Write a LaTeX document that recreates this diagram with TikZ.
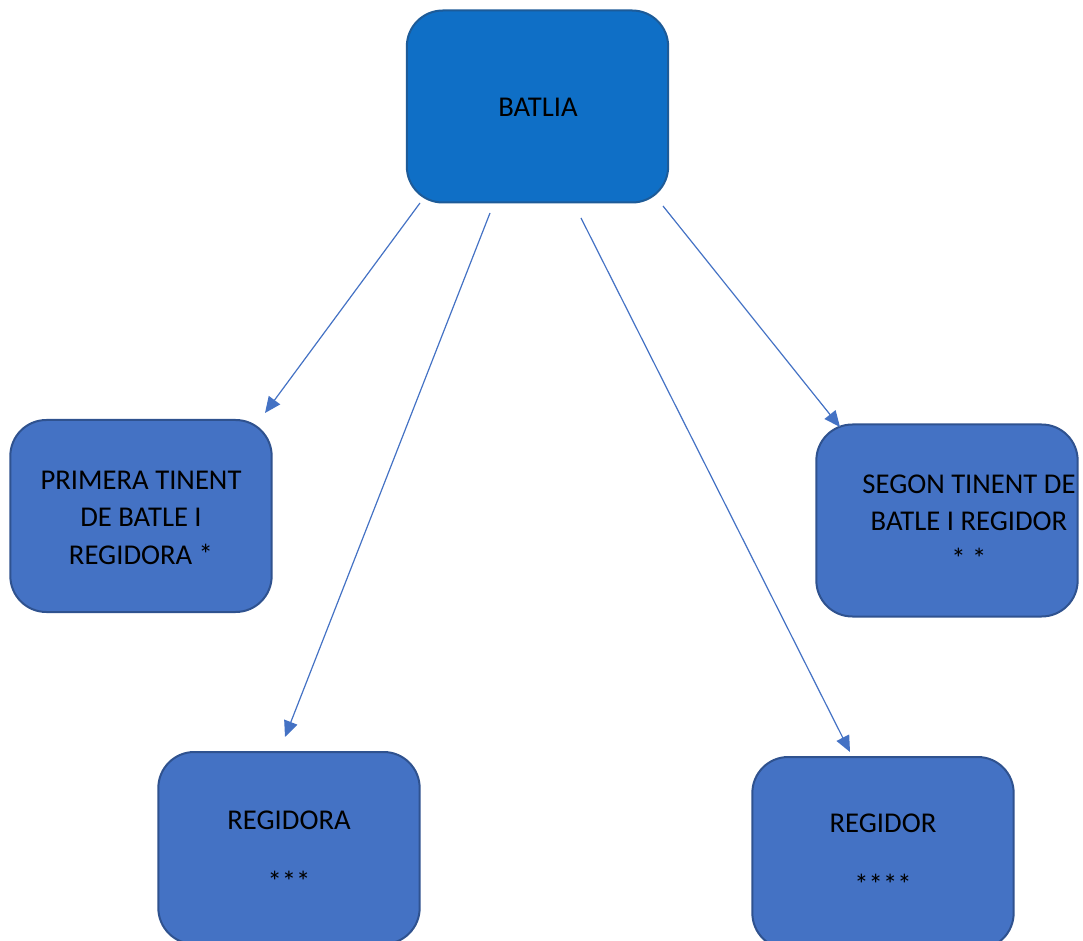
\documentclass[tikz,border=0pt]{standalone}
\usepackage{fontspec}
\setmainfont{Carlito}
\usetikzlibrary{arrows.meta}
\definecolor{topfill}{HTML}{0F6FC6}
\definecolor{topdraw}{HTML}{1D5B98}
\definecolor{boxfill}{HTML}{4472C4}
\definecolor{boxdraw}{HTML}{2F528F}
\definecolor{arrowcol}{HTML}{4472C4}
\tikzset{
  rbox/.style={draw=boxdraw, fill=boxfill, line width=1.5pt, rounded corners=27pt,
    minimum width=196pt, minimum height=144pt, inner sep=0pt, outer sep=0pt},
  topbox/.style={rbox, draw=topdraw, fill=topfill},
  lbl/.style={font=\fontsize{21.5}{28.5}\selectfont, align=center, anchor=base, inner sep=0pt, text=black},
  conn/.style={draw=arrowcol, line width=0.9pt, -{Triangle[length=12pt,width=10.5pt]}}
}
\begin{document}
\begin{tikzpicture}[x=0.75pt,y=-0.75pt]
\useasboundingbox (0,0) rectangle (1083,941);
% boxes
\node[topbox] (b0) at (537.5,106.5) {};
\node[rbox] (p1) at (141,516) {};
\node[rbox] (s2) at (947,520.5) {};
\node[rbox] (r3) at (289,848) {};
\node[rbox] (r4) at (883,853) {};
% labels (anchor = baseline of last line)
\node[lbl] (t0) at (538,117) {BATLIA};
\node[lbl] (t1) at (141,565) {PRIMERA TINENT\\DE BATLE I\\REGIDORA *};
\node[lbl] (t2) at (969,569) {SEGON TINENT DE\\BATLE I REGIDOR\\* *};
\node[lbl] (t3) at (289,891) {REGIDORA\\[18pt]***};
\node[lbl] (t4) at (883,894) {REGIDOR\\[18pt]****};
% connector ends
\coordinate (a1s) at (420,203);
\coordinate (a1e) at (265,413);
\coordinate (a2s) at (490,213);
\coordinate (a2e) at (285,737);
\coordinate (a3s) at (581,218);
\coordinate (a3e) at (850,752);
\coordinate (a4s) at (663,206);
\coordinate (a4e) at (840,427);
\draw[conn] (a1s) -- (a1e);
\draw[conn] (a2s) -- (a2e);
\draw[conn] (a3s) -- (a3e);
\draw[conn] (a4s) -- (a4e);
\end{tikzpicture}
\end{document}
